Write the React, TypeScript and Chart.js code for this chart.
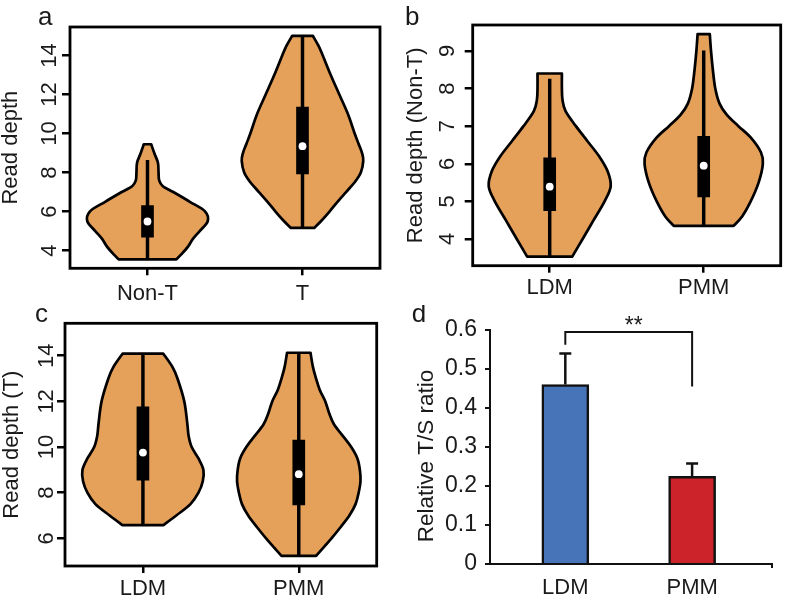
import React, { useEffect, useRef } from 'react';
import { Chart, registerables } from 'chart.js';

Chart.register(...registerables);

const FONT = "'Liberation Sans', Arial, Helvetica, sans-serif";
const TEXT = '#1a1a1a';
const VIOLIN_FILL = '#E5A05A';
const FS = 22;

// ---------- Panel a ----------
const CATS_A = ['Non-T', 'T'];
const TICKS_A = [4, 6, 8, 10, 12, 14];
const A_NONT_Y = [3.55, 3.8, 4.2, 4.6, 5.0, 5.5, 6.0, 6.5, 7.0, 7.3, 7.6, 8.0, 8.5, 9.0, 9.45];
const A_NONT_W = [0.47, 0.55, 0.66, 0.74, 0.85, 0.98, 0.94, 0.69, 0.42, 0.25, 0.19, 0.18, 0.17, 0.11, 0.06];
const A_T_Y = [5.16, 5.5, 6, 6.5, 7, 7.5, 8, 8.6, 9, 9.5, 10, 11, 12, 13, 14, 14.5, 15];
const A_T_W = [0.19, 0.3, 0.44, 0.57, 0.71, 0.85, 0.95, 0.99, 0.97, 0.91, 0.85, 0.74, 0.6, 0.46, 0.33, 0.26, 0.17];
const A_Q1 = [4.68, 7.93];
const A_Q3 = [6.31, 11.35];
const A_MED = [5.49, 9.35];
const A_LO = [3.55, 5.16];
const A_HI = [8.62, 15.0];

// ---------- Panel b ----------
const CATS_B = ['LDM', 'PMM'];
const TICKS_B = [4, 5, 6, 7, 8, 9];
const B_LDM_Y = [3.53, 4, 4.5, 5, 5.4, 5.8, 6.2, 6.6, 7, 7.4, 7.7, 8, 8.4];
const B_LDM_W = [0.37, 0.54, 0.72, 0.9, 1.0, 0.95, 0.81, 0.62, 0.43, 0.26, 0.21, 0.2, 0.2];
const B_PMM_Y = [4.35, 4.6, 5, 5.5, 6, 6.3, 6.7, 7, 7.3, 7.6, 8, 8.5, 9, 9.45];
const B_PMM_W = [0.49, 0.63, 0.77, 0.9, 0.97, 0.94, 0.77, 0.57, 0.38, 0.26, 0.19, 0.15, 0.12, 0.1];
const B_Q1 = [4.75, 5.12];
const B_Q3 = [6.16, 6.73];
const B_MED = [5.39, 5.95];
const B_LO = [3.53, 4.35];
const B_HI = [8.25, 9.0];

// ---------- Panel c ----------
const CATS_C = ['LDM', 'PMM'];
const TICKS_C = [6, 8, 10, 12, 14];
const C_LDM_Y = [6.58, 7, 7.5, 8, 8.5, 9, 9.5, 10, 10.5, 11, 12, 13, 13.5, 14.09];
const C_LDM_W = [0.33, 0.54, 0.77, 0.9, 0.97, 0.98, 0.9, 0.79, 0.74, 0.72, 0.67, 0.56, 0.48, 0.33];
const C_PMM_Y = [5.23, 6, 6.5, 7, 7.5, 8, 8.5, 9, 9.5, 10, 10.5, 11, 11.5, 12, 12.5, 13, 13.5, 14.13];
const C_PMM_W = [0.28, 0.53, 0.68, 0.82, 0.92, 0.97, 1.0, 0.99, 0.95, 0.85, 0.71, 0.57, 0.49, 0.43, 0.34, 0.28, 0.23, 0.19];
const C_Q1 = [8.55, 7.46];
const C_Q3 = [11.76, 10.3];
const C_MED = [9.76, 8.81];
const C_LO = [6.58, 5.23];
const C_HI = [14.09, 14.13];

// ---------- Panel d ----------
const CATS_D = ['LDM', 'PMM'];
const TICKS_D = [0, 0.1, 0.2, 0.3, 0.4, 0.5, 0.6];
const VAL_D = [0.46, 0.225];
const ERR_D = [0.08, 0.033];
const COLORS_D = ['#4773B9', '#CC2229'];
const SIG_LEVEL = 0.595;
const SIG_LEGS = [0.562, 0.455];
const SIG_LABEL = '**';

type Pt = [number, number];

function smoothThrough(ctx: CanvasRenderingContext2D, pts: Pt[]) {
  for (let i = 0; i < pts.length - 1; i++) {
    const p0 = pts[i - 1] || pts[i];
    const p1 = pts[i];
    const p2 = pts[i + 1];
    const p3 = pts[i + 2] || p2;
    const c1x = p1[0] + (p2[0] - p0[0]) / 6;
    const c1y = p1[1] + (p2[1] - p0[1]) / 6;
    const c2x = p2[0] - (p3[0] - p1[0]) / 6;
    const c2y = p2[1] - (p3[1] - p1[1]) / 6;
    ctx.bezierCurveTo(c1x, c1y, c2x, c2y, p2[0], p2[1]);
  }
}

type ViolinPanel = {
  cats: string[];
  ticks: number[];
  min: number;
  max: number;
  title: string;
  letter: string;
  shapes: { ys: number[]; ws: number[] }[];
  q1: number[];
  q3: number[];
  med: number[];
  lo: number[];
  hi: number[];
  w: number;
  h: number;
  left: number;
  top: number;
  right: number;
  bottom: number;
  titleX: number;
  labelGap: number;
  xLabelPad: number;
  letterX: number;
  letterY: number;
};

function violinConfig(p: ViolinPanel): any {
  const plugin = {
    id: 'violinPanel',
    beforeDatasetsDraw(chart: any) {
      const ctx: CanvasRenderingContext2D = chart.ctx;
      const xs = chart.scales.x;
      const ys = chart.scales.y;
      const spacing = Math.abs(xs.getPixelForValue(1) - xs.getPixelForValue(0));
      const maxHW = spacing * 0.396;
      ctx.save();
      p.shapes.forEach((s, idx) => {
        const cx = xs.getPixelForValue(idx);
        const left: Pt[] = s.ys.map((v, i) => [cx - s.ws[i] * maxHW, ys.getPixelForValue(v)]);
        const right: Pt[] = s.ys.map((v, i) => [cx + s.ws[i] * maxHW, ys.getPixelForValue(v)] as Pt).reverse();
        ctx.beginPath();
        ctx.moveTo(left[0][0], left[0][1]);
        smoothThrough(ctx, left);
        ctx.lineTo(right[0][0], right[0][1]);
        smoothThrough(ctx, right);
        ctx.closePath();
        ctx.fillStyle = VIOLIN_FILL;
        ctx.fill();
        ctx.lineWidth = 2.7;
        ctx.lineJoin = 'round';
        ctx.strokeStyle = '#000';
        ctx.stroke();
      });
      ctx.restore();
    },
    afterDraw(chart: any) {
      const ctx: CanvasRenderingContext2D = chart.ctx;
      const a = chart.chartArea;
      const ys = chart.scales.y;
      ctx.save();
      ctx.strokeStyle = '#000';
      ctx.lineWidth = 2.8;
      ctx.strokeRect(a.left, a.top, a.right - a.left, a.bottom - a.top);
      ctx.fillStyle = TEXT;
      ctx.font = `${FS}px ${FONT}`;
      ctx.textAlign = 'center';
      ctx.textBaseline = 'alphabetic';
      for (const t of ys.ticks) {
        const py = ys.getPixelForValue(t.value);
        ctx.save();
        ctx.translate(a.left - p.labelGap, py);
        ctx.rotate(-Math.PI / 2);
        ctx.fillText(String(t.value), 0, 0);
        ctx.restore();
      }
      ctx.font = `26px ${FONT}`;
      ctx.textAlign = 'left';
      ctx.fillText(p.letter, p.letterX, p.letterY);
      ctx.restore();
    },
  };

  return {
    type: 'bar',
    data: {
      labels: p.cats,
      datasets: [
        {
          type: 'line',
          data: p.med,
          showLine: false,
          pointRadius: 3.9,
          pointHoverRadius: 3.9,
          pointBackgroundColor: '#fff',
          pointBorderWidth: 0,
          order: 0,
        },
        {
          type: 'bar',
          data: p.q1.map((v, i) => [v, p.q3[i]]),
          backgroundColor: '#000',
          borderWidth: 0,
          barThickness: 12,
          grouped: false,
          order: 1,
        },
        {
          type: 'bar',
          data: p.lo.map((v, i) => [v, p.hi[i]]),
          backgroundColor: '#000',
          borderWidth: 0,
          barThickness: 2.8,
          grouped: false,
          order: 2,
        },
      ],
    },
    options: {
      responsive: false,
      animation: false,
      events: [],
      layout: { padding: { left: 0, top: p.top, right: p.w - p.right, bottom: 0 } },
      plugins: { legend: { display: false }, tooltip: { enabled: false }, title: { display: false } },
      scales: {
        x: {
          type: 'category',
          offset: true,
          grid: { offset: false, drawOnChartArea: false, drawTicks: true, tickLength: 7, color: '#000', lineWidth: 2.5 },
          border: { display: false },
          ticks: { color: TEXT, font: { family: FONT, size: FS }, padding: p.xLabelPad, maxRotation: 0, autoSkip: false },
          afterFit: (s: any) => {
            s.height = p.h - p.bottom;
          },
        },
        y: {
          type: 'linear',
          min: p.min,
          max: p.max,
          afterBuildTicks: (s: any) => {
            s.ticks = p.ticks.map((v) => ({ value: v }));
          },
          grid: { drawOnChartArea: false, drawTicks: true, tickLength: 8, color: '#000', lineWidth: 2.5 },
          border: { display: false },
          ticks: { display: false },
          title: {
            display: true,
            text: p.title,
            color: TEXT,
            font: { family: FONT, size: FS, lineHeight: 1 },
            padding: { top: p.titleX - FS / 2, bottom: 0 },
          },
          afterFit: (s: any) => {
            s.width = p.left;
          },
        },
      },
    },
    plugins: [plugin],
  };
}

function barConfig(): any {
  const W = 394;
  const H = 296;
  const L = 97;
  const T = 25;
  const R = 379;
  const B = 259;
  const plugin = {
    id: 'barExtras',
    afterDraw(chart: any) {
      const ctx: CanvasRenderingContext2D = chart.ctx;
      const xs = chart.scales.x;
      const ys = chart.scales.y;
      const a = chart.chartArea;
      ctx.save();
      ctx.strokeStyle = '#111';
      ctx.lineWidth = 2.5;
      ctx.lineCap = 'butt';
      VAL_D.forEach((v, i) => {
        const px = xs.getPixelForValue(i + 1);
        const y0 = ys.getPixelForValue(v);
        const y1 = ys.getPixelForValue(v + ERR_D[i]);
        ctx.beginPath();
        ctx.moveTo(px, y0);
        ctx.lineTo(px, y1);
        ctx.moveTo(px - 6, y1);
        ctx.lineTo(px + 6, y1);
        ctx.stroke();
      });
      // significance bracket
      const x1 = xs.getPixelForValue(1);
      const x2 = xs.getPixelForValue(2);
      const yl = ys.getPixelForValue(SIG_LEVEL);
      ctx.lineWidth = 2;
      ctx.beginPath();
      ctx.moveTo(x1, ys.getPixelForValue(SIG_LEGS[0]));
      ctx.lineTo(x1, yl);
      ctx.lineTo(x2, yl);
      ctx.lineTo(x2, ys.getPixelForValue(SIG_LEGS[1]));
      ctx.stroke();
      ctx.fillStyle = TEXT;
      ctx.font = `23px ${FONT}`;
      ctx.textAlign = 'center';
      ctx.textBaseline = 'alphabetic';
      ctx.fillText(SIG_LABEL, (x1 + x2) / 2 + 5, yl + 1);
      // small tick at right end of x axis
      ctx.lineWidth = 2;
      ctx.beginPath();
      ctx.moveTo(a.right, a.bottom);
      ctx.lineTo(a.right, a.bottom + 4);
      ctx.stroke();
      // y title
      ctx.save();
      ctx.font = `22.5px ${FONT}`;
      ctx.translate(a.left - 63, (a.top + a.bottom) / 2 + 9);
      ctx.rotate(-Math.PI / 2);
      ctx.textBaseline = 'middle';
      ctx.fillText('Relative T/S ratio', 0, 0);
      ctx.restore();
      // panel letter
      ctx.font = `26px ${FONT}`;
      ctx.textAlign = 'left';
      ctx.fillText('d', 18.7, 16.7);
      ctx.restore();
    },
  };
  return {
    type: 'bar',
    data: {
      datasets: [
        {
          data: VAL_D.map((v, i) => ({ x: i + 1, y: v })),
          backgroundColor: COLORS_D,
          borderColor: '#111',
          borderWidth: 2.5,
          borderSkipped: 'start',
          barThickness: 47,
        },
      ],
    },
    options: {
      responsive: false,
      animation: false,
      events: [],
      layout: { padding: { left: 0, top: T, right: W - R, bottom: 0 } },
      plugins: { legend: { display: false }, tooltip: { enabled: false } },
      scales: {
        x: {
          type: 'linear',
          offset: false,
          min: 0.406,
          max: 2.63,
          afterBuildTicks: (s: any) => {
            s.ticks = CATS_D.map((_, i) => ({ value: i + 1 }));
          },
          grid: { display: false, drawTicks: false, offset: false },
          border: { display: true, color: '#111', width: 2 },
          ticks: {
            color: TEXT,
            font: { family: FONT, size: 22 },
            padding: 11,
            maxRotation: 0,
            autoSkip: false,
            callback: (v: any) => CATS_D[Math.round(v) - 1] ?? '',
          },
          afterFit: (s: any) => {
            s.height = H - B;
          },
        },
        y: {
          type: 'linear',
          min: 0,
          max: 0.6,
          afterBuildTicks: (s: any) => {
            s.ticks = TICKS_D.map((v) => ({ value: v }));
          },
          grid: { drawOnChartArea: false, drawTicks: true, tickLength: 5, color: '#111', lineWidth: 2 },
          border: { display: true, color: '#111', width: 2 },
          ticks: {
            color: TEXT,
            font: { family: FONT, size: 23 },
            padding: 8,
            callback: (v: any) => String(Math.round(v * 10) / 10),
          },
          afterFit: (s: any) => {
            s.width = L;
          },
        },
      },
    },
    plugins: [plugin],
  };
}

function Panel({ left, top, w, h, build }: { left: number; top: number; w: number; h: number; build: () => any }) {
  const ref = useRef<HTMLCanvasElement>(null);
  useEffect(() => {
    const chart = new Chart(ref.current as HTMLCanvasElement, build());
    return () => chart.destroy();
  }, []);
  return (
    <div style={{ position: 'absolute', left, top, width: w, height: h }}>
      <canvas ref={ref} width={w} height={h} style={{ width: w, height: h, display: 'block' }} />
    </div>
  );
}

const panelA: ViolinPanel = {
  cats: CATS_A, ticks: TICKS_A, min: 3.09, max: 15.46, title: 'Read depth', letter: 'a',
  shapes: [{ ys: A_NONT_Y, ws: A_NONT_W }, { ys: A_T_Y, ws: A_T_W }],
  q1: A_Q1, q3: A_Q3, med: A_MED, lo: A_LO, hi: A_HI,
  w: 393, h: 305, left: 70, top: 27, right: 380, bottom: 268.3,
  titleX: 11, labelGap: 14, xLabelPad: 5, letterX: 38, letterY: 25,
};

const panelB: ViolinPanel = {
  cats: CATS_B, ticks: TICKS_B, min: 3.29, max: 9.69, title: 'Read depth (Non-T)', letter: 'b',
  shapes: [{ ys: B_LDM_Y, ws: B_LDM_W }, { ys: B_PMM_Y, ws: B_PMM_W }],
  q1: B_Q1, q3: B_Q3, med: B_MED, lo: B_LO, hi: B_HI,
  w: 394, h: 305, left: 79.7, top: 25, right: 387.7, bottom: 265.7,
  titleX: 23, labelGap: 19, xLabelPad: 2.5, letterX: 12, letterY: 25,
};

const panelC: ViolinPanel = {
  cats: CATS_C, ticks: TICKS_C, min: 4.79, max: 15.42, title: 'Read depth (T)', letter: 'c',
  shapes: [{ ys: C_LDM_Y, ws: C_LDM_W }, { ys: C_PMM_Y, ws: C_PMM_W }],
  q1: C_Q1, q3: C_Q3, med: C_MED, lo: C_LO, hi: C_HI,
  w: 393, h: 296, left: 65, top: 18.3, right: 376.7, bottom: 261,
  titleX: 11.5, labelGap: 12, xLabelPad: 3, letterX: 35, letterY: 17,
};

export default function App() {
  return (
    <div style={{ position: 'absolute', left: 0, top: 0, width: 787, height: 601, background: '#fff', overflow: 'hidden' }}>
      <Panel left={0} top={0} w={393} h={305} build={() => violinConfig(panelA)} />
      <Panel left={393} top={0} w={394} h={305} build={() => violinConfig(panelB)} />
      <Panel left={0} top={305} w={393} h={296} build={() => violinConfig(panelC)} />
      <Panel left={393} top={305} w={394} h={296} build={barConfig} />
    </div>
  );
}
